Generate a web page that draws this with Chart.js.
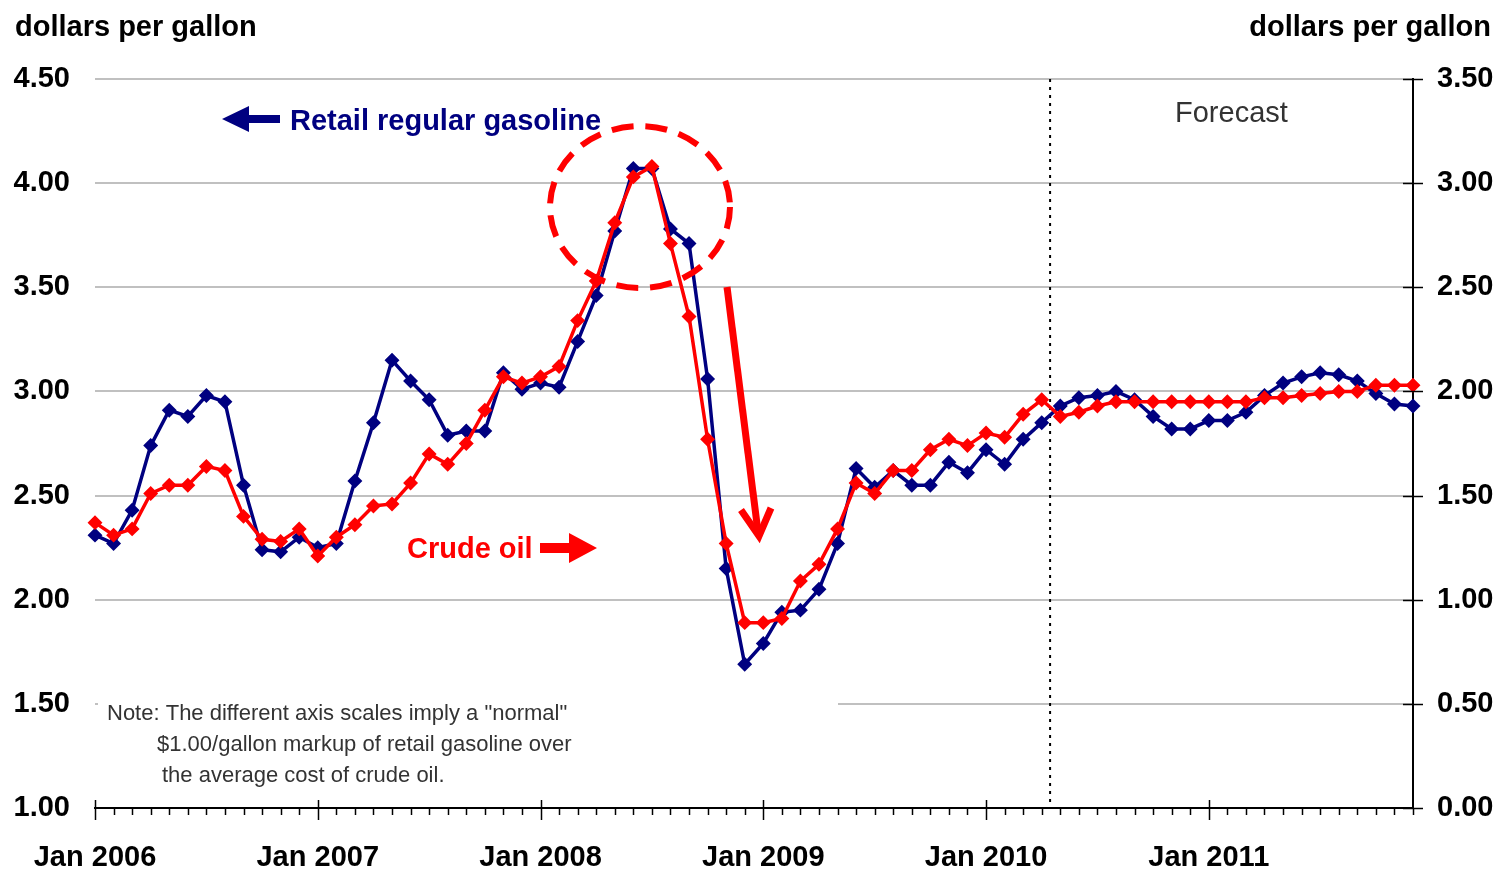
<!DOCTYPE html>
<html>
<head>
<meta charset="utf-8">
<script src="https://cdn.jsdelivr.net/npm/chart.js@4.4.1/dist/chart.umd.min.js"></script>
<style>
  body { margin: 0; background: #fff; }
  #wrap { width: 1499px; height: 873px; }
</style>
</head>
<body>
<div id="wrap"><canvas id="grafico" width="1499" height="873"></canvas></div>
<script>
// DATA
const meses = ['Jan', 'Feb', 'Mar', 'Apr', 'May', 'Jun', 'Jul', 'Aug', 'Sep', 'Oct', 'Nov', 'Dec']
const anos = [2006, 2007, 2008, 2009, 2010, 2011]

// retail regular gasoline, left axis
const gasolina = [
    2.31, 2.27, 2.43, 2.74, 2.91, 2.88, 2.98, 2.95, 2.55, 2.24, 2.23, 2.30,
    2.25, 2.27, 2.57, 2.85, 3.15, 3.05, 2.96, 2.79, 2.81, 2.81, 3.09, 3.01,
    3.04, 3.02, 3.24, 3.46, 3.77, 4.07, 4.07, 3.78, 3.71, 3.06, 2.15, 1.69,
    1.79, 1.94, 1.95, 2.05, 2.27, 2.63, 2.54, 2.62, 2.55, 2.55, 2.66, 2.61,
    2.72, 2.65, 2.77, 2.85, 2.93, 2.97, 2.98, 3.00, 2.96, 2.88, 2.82, 2.82,
    2.86, 2.86, 2.90, 2.98, 3.04, 3.07, 3.09, 3.08, 3.05, 2.99, 2.94, 2.93
]

// crude oil, right axis
const petroleo = [
    1.37, 1.31, 1.34, 1.51, 1.55, 1.55, 1.64, 1.62, 1.40, 1.29, 1.28, 1.34,
    1.21, 1.30, 1.36, 1.45, 1.46, 1.56, 1.70, 1.65, 1.75, 1.91, 2.07, 2.04,
    2.07, 2.12, 2.34, 2.53, 2.81, 3.03, 3.08, 2.71, 2.36, 1.77, 1.27, 0.89,
    0.89, 0.91, 1.09, 1.17, 1.34, 1.56, 1.51, 1.62, 1.62, 1.72, 1.77, 1.74,
    1.80, 1.78, 1.89, 1.96, 1.88, 1.90, 1.93, 1.95, 1.95, 1.95, 1.95, 1.95,
    1.95, 1.95, 1.95, 1.97, 1.97, 1.98, 1.99, 2.00, 2.00, 2.03, 2.03, 2.03
]

const ticksEsq = [1.00, 1.50, 2.00, 2.50, 3.00, 3.50, 4.00, 4.50]
const ticksDir = [0.00, 0.50, 1.00, 1.50, 2.00, 2.50, 3.00, 3.50]
const inicioPrevisao = 51.45 // forecast starts here (month index)

let labels = []
anos.forEach(a => meses.forEach(m => labels.push(`${m} ${a}`)))

const FONTE = "'Liberation Sans', Arial, sans-serif"
const AZUL = '#000080'
const VERMELHO = '#ff0000'

// PLUGIN FOR TICKS, NOTE AND ANNOTATIONS
const decoracao = {
    id: 'decoracao',
    beforeDatasetsDraw(chart) {
        const ctx = chart.ctx
        const x = chart.scales.x
        const y = chart.scales.y
        const area = chart.chartArea
        ctx.save()
        // note box hides part of the 1.50 grid line
        ctx.fillStyle = '#fff'
        ctx.fillRect(area.left + 3, y.getPixelForValue(1.5) - 12, 740, 100)
        // forecast dotted line
        const passo = x.getPixelForValue(1) - x.getPixelForValue(0)
        const xp = x.getPixelForValue(0) + inicioPrevisao * passo
        ctx.strokeStyle = '#000'
        ctx.lineWidth = 2
        ctx.setLineDash([3, 5])
        ctx.beginPath()
        ctx.moveTo(xp, area.top)
        ctx.lineTo(xp, area.bottom)
        ctx.stroke()
        ctx.restore()
    },
    afterDraw(chart) {
        const ctx = chart.ctx
        const x = chart.scales.x
        const area = chart.chartArea
        ctx.save()

        // x ticks: monthly minor, yearly major
        ctx.strokeStyle = '#000'
        ctx.lineWidth = 1.5
        for (let i = 0; i < labels.length; i++) {
            const px = Math.round(x.getPixelForValue(i)) + 0.5
            ctx.beginPath()
            if (i % 12 == 0) {
                ctx.moveTo(px, area.bottom - 8)
                ctx.lineTo(px, area.bottom + 12)
            } else {
                ctx.moveTo(px, area.bottom)
                ctx.lineTo(px, area.bottom + 7)
            }
            ctx.stroke()
        }
        // right axis ticks crossing the line
        ticksDir.forEach(v => {
            const py = Math.round(chart.scales.y1.getPixelForValue(v)) + 0.5
            ctx.beginPath()
            ctx.moveTo(area.right - 10, py)
            ctx.lineTo(area.right + 10, py)
            ctx.stroke()
        })

        // axis titles
        ctx.fillStyle = '#000'
        ctx.font = `bold 29px ${FONTE}`
        ctx.textBaseline = 'middle'
        ctx.textAlign = 'left'
        ctx.fillText('dollars per gallon', 15, 28)
        ctx.textAlign = 'right'
        ctx.fillText('dollars per gallon', 1491, 28)

        // forecast label
        ctx.textAlign = 'left'
        ctx.fillStyle = '#333'
        ctx.font = `29px ${FONTE}`
        ctx.fillText('Forecast', 1175, 114)

        // note
        ctx.font = `22px ${FONTE}`
        ctx.fillText('Note: The different axis scales imply a "normal"', 107, 714)
        ctx.fillText('$1.00/gallon markup of retail gasoline over', 157, 745)
        ctx.fillText('the average cost of crude oil.', 162, 776)

        // retail gasoline label with left arrow
        ctx.fillStyle = AZUL
        ctx.font = `bold 29px ${FONTE}`
        ctx.fillText('Retail regular gasoline', 290, 122)
        ctx.beginPath()
        ctx.moveTo(222, 119)
        ctx.lineTo(249, 106)
        ctx.lineTo(249, 115)
        ctx.lineTo(280, 115)
        ctx.lineTo(280, 123)
        ctx.lineTo(249, 123)
        ctx.lineTo(249, 132)
        ctx.closePath()
        ctx.fill()

        // crude oil label with right arrow
        ctx.fillStyle = VERMELHO
        ctx.fillText('Crude oil', 407, 550)
        ctx.beginPath()
        ctx.moveTo(597, 548)
        ctx.lineTo(569, 533)
        ctx.lineTo(569, 543)
        ctx.lineTo(540, 543)
        ctx.lineTo(540, 553)
        ctx.lineTo(569, 553)
        ctx.lineTo(569, 563)
        ctx.closePath()
        ctx.fill()

        // dashed circle around the peak
        ctx.strokeStyle = VERMELHO
        ctx.lineWidth = 6
        ctx.setLineDash([22, 12])
        ctx.beginPath()
        ctx.ellipse(640, 207, 90, 81, 0, 0, Math.PI * 2)
        ctx.stroke()

        // big arrow down
        ctx.setLineDash([])
        ctx.lineWidth = 7
        ctx.beginPath()
        ctx.moveTo(727, 287)
        ctx.lineTo(758, 532)
        ctx.stroke()
        ctx.beginPath()
        ctx.moveTo(741, 510)
        ctx.lineTo(759, 536)
        ctx.lineTo(771, 508)
        ctx.stroke()

        ctx.restore()
    }
}

let grafico = new Chart(document.getElementById('grafico'), {
    type: 'line',
    data: {
        labels: labels,
        datasets: [
            {
                label: 'Crude oil',
                data: petroleo,
                yAxisID: 'y1',
                borderColor: VERMELHO,
                backgroundColor: VERMELHO,
                borderWidth: 3.5,
                pointStyle: 'rectRot',
                pointRadius: 5,
                tension: 0
            },
            {
                label: 'Retail regular gasoline',
                data: gasolina,
                yAxisID: 'y',
                borderColor: AZUL,
                backgroundColor: AZUL,
                borderWidth: 3.5,
                pointStyle: 'rectRot',
                pointRadius: 5,
                tension: 0
            }
        ]
    },
    options: {
        responsive: false,
        animation: false,
        devicePixelRatio: 1,
        layout: { padding: { top: 79, left: 0, right: 0, bottom: 0 } },
        plugins: {
            legend: { display: false },
            tooltip: { enabled: false }
        },
        scales: {
            x: {
                offset: false,
                grid: { display: false },
                border: { display: true, color: '#000', width: 2 },
                ticks: {
                    autoSkip: false,
                    maxRotation: 0,
                    padding: 25,
                    color: '#000',
                    font: { family: FONTE, size: 29, weight: 'bold' },
                    callback: function (v, i) { return i % 12 == 0 ? labels[i] : '' }
                },
                afterFit: s => { s.height = 65 }
            },
            y: {
                position: 'left',
                min: 1, max: 4.5,
                afterBuildTicks: s => { s.ticks = ticksEsq.map(v => ({ value: v })) },
                grid: { color: '#c0c0c0', lineWidth: 2, drawTicks: false },
                border: { display: false },
                ticks: {
                    padding: 25,
                    color: '#000',
                    font: { family: FONTE, size: 29, weight: 'bold' },
                    callback: v => v.toFixed(2)
                },
                afterFit: s => { s.width = 95 }
            },
            y1: {
                position: 'right',
                min: 0, max: 3.5,
                afterBuildTicks: s => { s.ticks = ticksDir.map(v => ({ value: v })) },
                grid: { drawOnChartArea: false, drawTicks: false },
                border: { display: true, color: '#000', width: 2 },
                ticks: {
                    padding: 24,
                    color: '#000',
                    font: { family: FONTE, size: 29, weight: 'bold' },
                    callback: v => v.toFixed(2)
                },
                afterFit: s => { s.width = 86 }
            }
        }
    },
    plugins: [decoracao]
})
</script>
</body>
</html>
